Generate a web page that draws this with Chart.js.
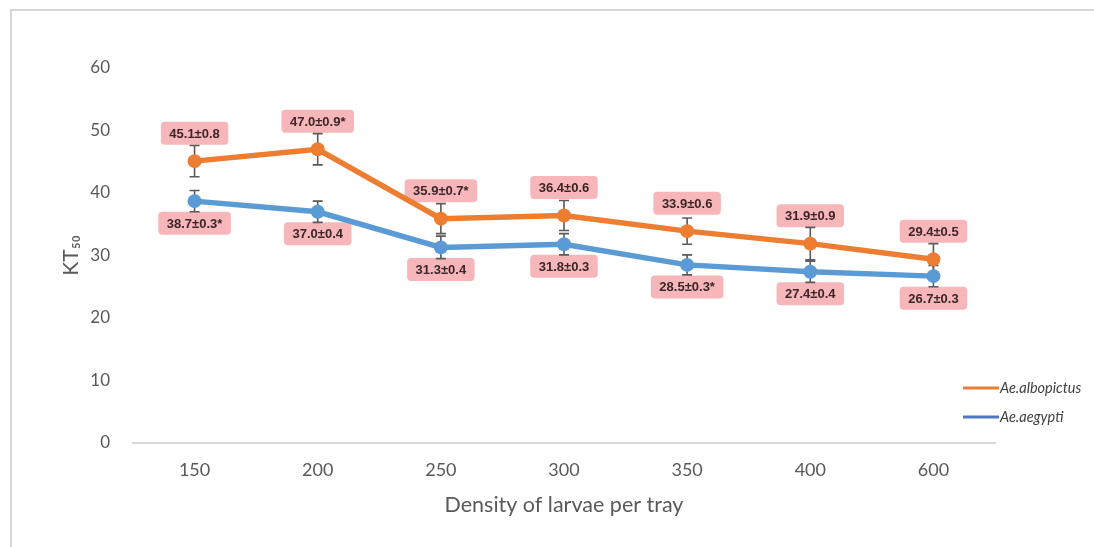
<!DOCTYPE html>
<html>
<head>
<meta charset="utf-8">
<script src="https://cdn.jsdelivr.net/npm/chart.js@4.4.1/dist/chart.umd.min.js"></script>
<style>
  html, body { margin: 0; padding: 0; background: #ffffff; }
  canvas { display: block; }
</style>
</head>
<body>
<canvas id="kt50" width="1094" height="547"></canvas>
<script>
// Larval density per tray (x categories)
const densities = ['150', '200', '250', '300', '350', '400', '600'];

// Ae. albopictus: mean KT50, ± value printed in the label, significance mark, whisker half-length
const albopictusMean = [45.1, 47.0, 35.9, 36.4, 33.9, 31.9, 29.4];
const albopictusPM = [0.8, 0.9, 0.7, 0.6, 0.6, 0.9, 0.5];
const albopictusMark = ['', '*', '*', '', '', '', ''];
const albopictusWhisker = [2.5, 2.5, 2.4, 2.4, 2.1, 2.6, 2.5];

// Ae. aegypti
const aegyptiMean = [38.7, 37.0, 31.3, 31.8, 28.5, 27.4, 26.7];
const aegyptiPM = [0.3, 0.4, 0.4, 0.3, 0.3, 0.4, 0.3];
const aegyptiMark = ['*', '', '', '', '*', '', ''];
const aegyptiWhisker = [1.7, 1.7, 1.8, 1.7, 1.6, 1.7, 1.7];

// Y axis ticks
const yTicks = [0, 10, 20, 30, 40, 50, 60];

const seriesNames = ['Ae.albopictus', 'Ae.aegypti'];
const ORANGE = '#ED7D31';
const BLUE = '#5B9BD5';
const AXIS_TEXT = '#595959';
const FONT = 'Lato, "Open Sans", sans-serif';

const extras = [
  { pm: albopictusPM, mark: albopictusMark, whisker: albopictusWhisker, labelDy: -28 },
  { pm: aegyptiPM, mark: aegyptiMark, whisker: aegyptiWhisker, labelDy: 22 }
];

// Thin grey frame around the figure
const framePlugin = {
  id: 'frame',
  beforeDraw(chart) {
    const ctx = chart.ctx;
    ctx.save();
    ctx.strokeStyle = '#d6d6d6';
    ctx.lineWidth = 2;
    ctx.beginPath();
    ctx.moveTo(11, chart.height);
    ctx.lineTo(11, 10);
    ctx.lineTo(chart.width, 10);
    ctx.stroke();
    ctx.restore();
  }
};

// Value labels (pink boxes) and error whiskers, drawn beneath the lines
const annotatePlugin = {
  id: 'annotate',
  beforeDatasetsDraw(chart) {
    const ctx = chart.ctx;
    const yScale = chart.scales.y;
    ctx.save();
    // label boxes
    ctx.font = 'bold 13px "Liberation Sans", Arial, sans-serif';
    ctx.textAlign = 'center';
    ctx.textBaseline = 'middle';
    chart.data.datasets.forEach((ds, i) => {
      const meta = chart.getDatasetMeta(i);
      const ex = extras[i];
      meta.data.forEach((pt, j) => {
        const txt = ds.data[j].toFixed(1) + '±' + ex.pm[j].toFixed(1) + ex.mark[j];
        const tw = ctx.measureText(txt).width;
        const w = tw + 17, h = 23;
        const cx = pt.x, cy = pt.y + ex.labelDy;
        ctx.fillStyle = '#F7B6BA';
        ctx.beginPath();
        ctx.roundRect(cx - w / 2, cy - h / 2, w, h, 4);
        ctx.fill();
        ctx.fillStyle = '#3b2626';
        ctx.fillText(txt, cx, cy + 1);
      });
    });
    // whiskers
    ctx.strokeStyle = '#5a5a5a';
    ctx.lineWidth = 1.6;
    chart.data.datasets.forEach((ds, i) => {
      const meta = chart.getDatasetMeta(i);
      const ex = extras[i];
      meta.data.forEach((pt, j) => {
        const v = ds.data[j];
        const top = yScale.getPixelForValue(v + ex.whisker[j]);
        const bot = yScale.getPixelForValue(v - ex.whisker[j]);
        ctx.beginPath();
        ctx.moveTo(pt.x, top); ctx.lineTo(pt.x, bot);
        ctx.moveTo(pt.x - 5, top); ctx.lineTo(pt.x + 5, top);
        ctx.moveTo(pt.x - 5, bot); ctx.lineTo(pt.x + 5, bot);
        ctx.stroke();
      });
    });
    ctx.restore();
  }
};

// Legend at the lower right
const legendPlugin = {
  id: 'sideLegend',
  afterDraw(chart) {
    const ctx = chart.ctx;
    ctx.save();
    const rows = [388, 417];
    chart.data.datasets.forEach((ds, i) => {
      const y = rows[i];
      ctx.strokeStyle = i === 0 ? ORANGE : '#4E79C0';
      ctx.lineWidth = 3;
      ctx.beginPath();
      ctx.moveTo(963, y); ctx.lineTo(999, y);
      ctx.stroke();
      ctx.fillStyle = '#404040';
      ctx.font = 'italic 14.5px ' + FONT;
      ctx.textAlign = 'left';
      ctx.textBaseline = 'middle';
      ctx.fillText(ds.label, 1000, y);
    });
    ctx.restore();
  }
};

new Chart(document.getElementById('kt50'), {
  type: 'line',
  data: {
    labels: densities,
    datasets: [
      {
        label: seriesNames[0],
        data: albopictusMean,
        borderColor: ORANGE,
        backgroundColor: ORANGE,
        pointBackgroundColor: ORANGE,
        borderWidth: 5.5,
        pointRadius: 7,
        pointBorderWidth: 0,
        tension: 0
      },
      {
        label: seriesNames[1],
        data: aegyptiMean,
        borderColor: BLUE,
        backgroundColor: BLUE,
        pointBackgroundColor: BLUE,
        borderWidth: 5.5,
        pointRadius: 7,
        pointBorderWidth: 0,
        tension: 0
      }
    ]
  },
  options: {
    responsive: false,
    animation: false,
    events: [],
    layout: { padding: { left: 0, right: 99, top: 68, bottom: 0 } },
    plugins: {
      legend: { display: false },
      tooltip: { enabled: false }
    },
    scales: {
      x: {
        type: 'category',
        offset: true,
        grid: { display: false, drawTicks: false },
        border: { display: true, color: '#d9d9d9', width: 2 },
        ticks: { color: AXIS_TEXT, font: { family: FONT, size: 18 }, padding: 16 },
        title: {
          display: true,
          text: 'Density of larvae per tray',
          color: AXIS_TEXT,
          font: { family: FONT, size: 21.5 },
          padding: { top: 0, bottom: 29 }
        },
        afterFit(scale) { scale.height = 104; }
      },
      y: {
        min: 0,
        max: 60,
        afterBuildTicks(scale) { scale.ticks = yTicks.map(v => ({ value: v })); },
        grid: { display: false, drawTicks: false },
        border: { display: false },
        ticks: { color: AXIS_TEXT, font: { family: FONT, size: 17 }, padding: 23 },
        title: {
          display: true,
          text: 'KT₅₀',
          color: AXIS_TEXT,
          font: { family: FONT, size: 21 },
          padding: { top: 59, bottom: 0 }
        },
        afterFit(scale) { scale.width = 133; }
      }
    }
  },
  plugins: [framePlugin, annotatePlugin, legendPlugin]
});
</script>
</body>
</html>
